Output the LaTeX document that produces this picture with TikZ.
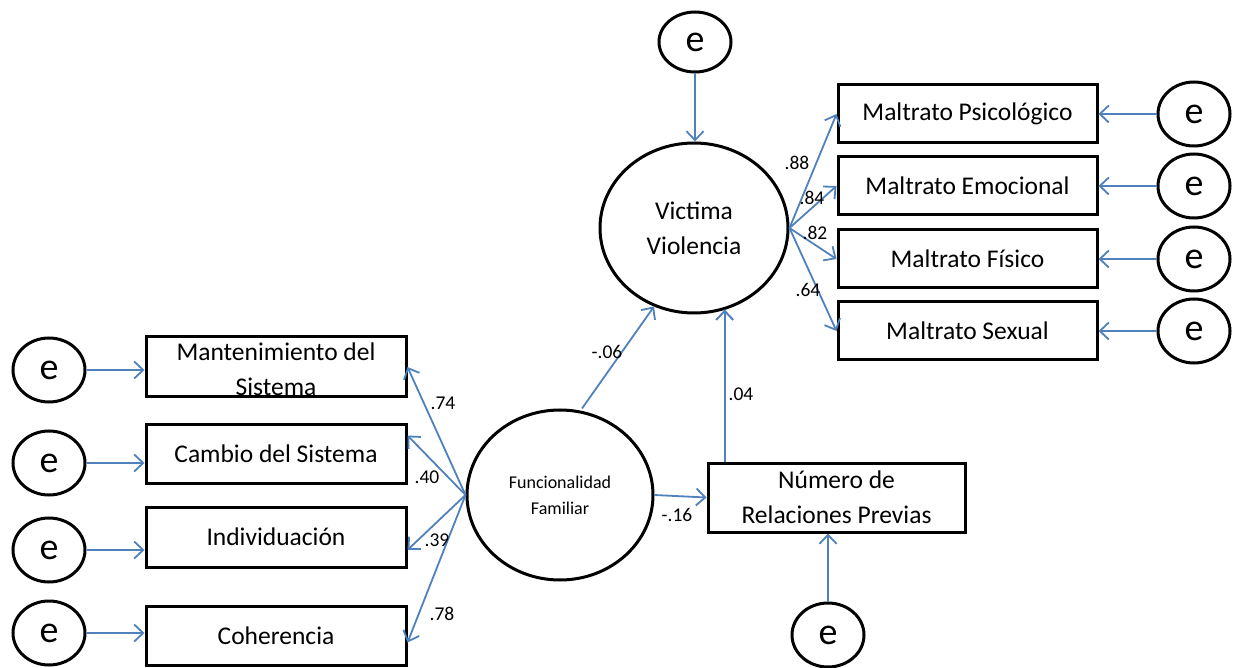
\documentclass[tikz,border=0pt]{standalone}
\usepackage{fontspec}
\setmainfont{Carlito}
\usetikzlibrary{arrows.meta,shapes.geometric,calc}
\definecolor{arrowblue}{RGB}{79,129,189}
\begin{document}
\begin{tikzpicture}[x=1pt,y=-1pt,
  boxnode/.style={draw=black, line width=3pt, rectangle, inner sep=0pt, align=center, font=\fontsize{25.5}{35}\selectfont},
  boxtext/.style={inner sep=0pt, align=center, font=\fontsize{25.5}{35}\selectfont},
  errnode/.style={draw=black, line width=3pt, ellipse, inner sep=0pt, minimum width=72pt, minimum height=64pt, font=\fontsize{38}{40}\selectfont},
  latent/.style={draw=black, line width=3pt, ellipse, inner sep=0pt, align=center, minimum width=188pt, minimum height=170pt},
  arr/.style={draw=arrowblue, line width=1.8pt, -{Straight Barb[length=9pt,width=17pt]}},
  coef/.style={font=\fontsize{19.5}{21}\selectfont, inner sep=0pt}
]
\useasboundingbox (0,0) rectangle (1235,668);

% left error terms and indicators
\node[errnode] (e1) at (49,370) {e};
\node[errnode] (e2) at (49,463) {e};
\node[errnode] (e3) at (49,550) {e};
\node[errnode] (e4) at (49,633) {e};

\node[boxnode, minimum width=260pt, minimum height=60pt] (c1) at (276,367) {};
\node[boxtext] at ([yshift=-2pt]c1.center) {Mantenimiento del\\Sistema};
\node[boxnode, minimum width=260pt, minimum height=59pt] (c2) at (276,453.5) {Cambio del Sistema};
\node[boxnode, minimum width=260pt, minimum height=60pt] (c3) at (276,537) {Individuación};
\node[boxnode, minimum width=260pt, minimum height=59pt] (c4) at (276,635.5) {Coherencia};

\draw[arr] (e1.east) -- (e1.east -| c1.west);
\draw[arr] (e2.east) -- (e2.east -| c2.west);
\draw[arr] (e3.east) -- (e3.east -| c3.west);
\draw[arr] (e4.east) -- (e4.east -| c4.west);

% latent Funcionalidad Familiar
\node[latent, minimum width=186pt, font=\fontsize{18}{26}\selectfont] (ff) at (560,495) {Funcionalidad\\Familiar};

\draw[arr] (ff.west) -- (c1.east);
\draw[arr] (ff.west) -- ([yshift=18pt]c2.east);
\draw[arr] (ff.west) -- ([yshift=-13pt]c3.east);
\draw[arr] (ff.west) -- ([yshift=-7pt]c4.east);

\node[coef] at (443,403) {.74};
\node[coef] at (427,477) {.40};
\node[coef] at (437,540) {.39};
\node[coef] at (442,614) {.78};

% latent Victima Violencia
\node[latent, font=\fontsize{25.5}{35}\selectfont] (vv) at (694,228) {Victima\\Violencia};
\node[errnode, minimum height=60pt] (ve) at (695,42) {e};
\draw[arr] (ve.south) -- (ve.south |- vv.north);

% Numero de relaciones previas
\node[boxnode, minimum width=257pt, minimum height=69pt] (nr) at (836.5,497.5) {Número de\\Relaciones Previas};
\node[errnode] (ne) at (828,635) {e};
\draw[arr] (ne.north) -- (ne.north |- nr.south);

\draw[arr] ([xshift=22pt]ff.north) -- (vv.243);
\node[coef] at (607,352) {-.06};
\coordinate (nrtop) at ([xshift=18.2pt]nr.north west);
\coordinate (vvbot) at (nrtop |- vv.south);
\draw[arr, line width=2pt] (nrtop) -- ([yshift=5pt]vvbot);
\node[coef] at (741,394) {.04};
\draw[arr] (ff.east) -- (nr.west);
\node[coef] at (677,515) {-.16};

% right indicators
\node[boxnode, minimum width=259pt, minimum height=58pt] (m1) at (967.5,114) {Maltrato Psicológico};
\node[boxnode, minimum width=259pt, minimum height=58pt] (m2) at (967.5,186) {Maltrato Emocional};
\node[boxnode, minimum width=259pt, minimum height=58pt] (m3) at (967.5,259) {Maltrato Físico};
\node[boxnode, minimum width=259pt, minimum height=58pt] (m4) at (967.5,331) {Maltrato Sexual};

\node[errnode] (r1) at (1194,114) {e};
\node[errnode] (r2) at (1194,186) {e};
\node[errnode] (r3) at (1194,259) {e};
\node[errnode] (r4) at (1194,331) {e};

\draw[arr] (r1.west) -- (r1.west -| m1.east);
\draw[arr] (r2.west) -- (r2.west -| m2.east);
\draw[arr] (r3.west) -- (r3.west -| m3.east);
\draw[arr] (r4.west) -- (r4.west -| m4.east);

\draw[arr] (vv.east) -- (m1.west);
\draw[arr] (vv.east) -- (m2.west);
\draw[arr] (vv.east) -- (m3.west);
\draw[arr] (vv.east) -- (m4.west);

\node[coef] at (797,163) {.88};
\node[coef] at (812,198) {.84};
\node[coef] at (815,233) {.82};
\node[coef] at (808,290) {.64};
\end{tikzpicture}
\end{document}
